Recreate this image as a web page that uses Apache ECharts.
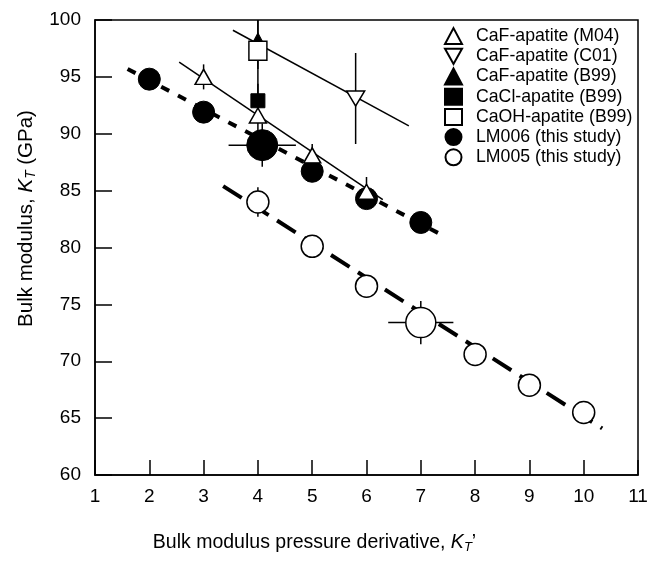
<!DOCTYPE html>
<html>
<head>
<meta charset="utf-8">
<script src="https://cdn.jsdelivr.net/npm/echarts@6/dist/echarts.min.js"></script>
<style>
  html, body { margin: 0; padding: 0; background: #fff; }
  #chart { width: 652px; height: 561px; }
</style>
</head>
<body>
<div id="chart"></div>
<script>
// LM006 (this study)
const lm006X = [2, 3, 4.08, 5, 6, 7]
const lm006Y = [94.8, 91.9, 89.0, 86.7, 84.3, 82.2]
const lm006Xerr = [0, 0, 0.62, 0, 0, 0]
const lm006Yerr = [0, 0, 1.9, 0, 0, 0]
const lm006Big = 2

// LM005 (this study)
const lm005X = [4, 5, 6, 7, 8, 9, 10]
const lm005Y = [84.0, 80.1, 76.6, 73.4, 70.6, 67.9, 65.5]
const lm005Xerr = [0, 0, 0, 0.6, 0, 0, 0]
const lm005Yerr = [1.3, 0, 0, 1.9, 0, 0, 0]
const lm005Big = 3

// literature values
const m04X = [3, 4, 5, 6]
const m04Y = [95.0, 91.6, 88.1, 84.9]
const m04Yerr = [1.1, 1.4, 1.0, 1.3]
const c01X = [5.8]
const c01Y = [93.1]
const c01Yerr = [4.0]
const b99FX = [4]
const b99FY = [98.2]
const b99FYerr = [2.5]
const b99ClX = [4]
const b99ClY = [92.9]
const b99ClYerr = [1.5]
const b99OHX = [4]
const b99OHY = [97.3]
const b99OHYerr = [4.5]

// fitted lines (end points)
const fit006 = [[1.6, 95.7], [7.35, 81.2]]
const fit005 = [[3.36, 85.4], [10.34, 64.1]]
const fitM04 = [[2.55, 96.3], [6.3, 84.2]]
const fitC01 = [[3.54, 99.1], [6.78, 90.7]]

const xTicks = [1, 11, 1]
const yTicks = [60, 100, 5]

const legendNames = ['CaF-apatite (M04)', 'CaF-apatite (C01)', 'CaF-apatite (B99)',
    'CaCl-apatite (B99)', 'CaOH-apatite (B99)', 'LM006 (this study)', 'LM005 (this study)']

const font = 'Liberation Sans, Arial, sans-serif'
const zip = (xs, ys) => xs.map((x, i) => [x, ys[i]])

// error bar rows: x, y, xerr, yerr
const errRows = []
const addErr = (xs, ys, xe, ye) => xs.forEach((x, i) => errRows.push([x, ys[i], xe ? xe[i] : 0, ye ? ye[i] : 0]))
addErr(lm006X, lm006Y, lm006Xerr, lm006Yerr)
addErr(lm005X, lm005Y, lm005Xerr, lm005Yerr)
addErr(m04X, m04Y, null, m04Yerr)
addErr(c01X, c01Y, null, c01Yerr)
addErr(b99FX, b99FY, null, b99FYerr)
addErr(b99ClX, b99ClY, null, b99ClYerr)
addErr(b99OHX, b99OHY, null, b99OHYerr)

const chart = echarts.init(document.getElementById('chart'), null, { renderer: 'canvas' })

const fitLine = (data, width, dash) => ({
    type: 'line',
    data: data,
    symbol: 'none',
    silent: true,
    z: 1,
    lineStyle: { color: '#000', width: width, type: dash || 'solid', cap: 'butt' }
})

const openStyle = { color: '#fff', borderColor: '#000', borderWidth: 1.5, opacity: 1 }
const fillStyle = { color: '#000', borderColor: '#000', borderWidth: 1, opacity: 1 }

const richFor = (size) => ({
    i: { fontFamily: font, fontSize: size, fontStyle: 'italic', color: '#000' },
    s: { fontFamily: font, fontSize: size * 0.67, fontStyle: 'italic', color: '#000', padding: [10, 0, 0, 0] }
})

const option = {
    animation: false,
    backgroundColor: '#fff',
    textStyle: { fontFamily: font, color: '#000' },
    grid: {
        left: 95, right: 14, top: 20, bottom: 86,
        show: true, borderColor: '#000', borderWidth: 1.5
    },
    legend: {
        data: legendNames,
        orient: 'vertical',
        left: 439,
        top: 21,
        itemWidth: 17,
        itemHeight: 16,
        itemGap: 0,
        textStyle: { fontFamily: font, fontSize: 17.7, lineHeight: 20.2, color: '#000', padding: [0, 0, 0, 9] },
        selectedMode: false
    },
    xAxis: {
        type: 'value',
        min: xTicks[0], max: xTicks[1], interval: xTicks[2],
        axisLine: { lineStyle: { color: '#000', width: 1.5 } },
        axisTick: { inside: true, length: 15, lineStyle: { color: '#000', width: 1.5 } },
        axisLabel: { fontFamily: font, fontSize: 19, color: '#000', margin: 12 },
        splitLine: { show: false },
        name: 'Bulk modulus pressure derivative, {i|K}{s|T}\u2019',
        nameLocation: 'middle',
        nameGap: 56,
        nameTextStyle: {
            fontFamily: font, fontSize: 19.5, color: '#000', padding: [0, 104, 0, 0],
            rich: richFor(19.5)
        }
    },
    yAxis: {
        type: 'value',
        min: yTicks[0], max: yTicks[1], interval: yTicks[2],
        axisLine: { lineStyle: { color: '#000', width: 1.5 } },
        axisTick: { inside: true, length: 17, lineStyle: { color: '#000', width: 1.5 } },
        axisLabel: { fontFamily: font, fontSize: 19, color: '#000', margin: 14 },
        splitLine: { show: false },
        name: 'Bulk modulus, {i|K}{s|T} (GPa)',
        nameLocation: 'middle',
        nameRotate: 90,
        nameGap: 53,
        nameTextStyle: {
            fontFamily: font, fontSize: 20.5, color: '#000', padding: [0, 0, 0, 58],
            rich: richFor(20.5)
        }
    },
    series: [
        fitLine(fit006, 4, [9, 10]),
        fitLine(fit005, 4, [22, 10]),
        fitLine(fitM04, 1.5),
        fitLine(fitC01, 1.5),
        {
            type: 'custom',
            silent: true,
            z: 2,
            data: errRows,
            renderItem: function (params, api) {
                const x = api.value(0), y = api.value(1), ex = api.value(2), ey = api.value(3)
                const children = []
                const st = { stroke: '#000', lineWidth: 1.5 }
                if (ey > 0) {
                    const a = api.coord([x, Math.min(y + ey, yTicks[1])])
                    const b = api.coord([x, Math.max(y - ey, yTicks[0])])
                    children.push({ type: 'line', shape: { x1: a[0], y1: a[1], x2: b[0], y2: b[1] }, style: st })
                }
                if (ex > 0) {
                    const a = api.coord([x - ex, y])
                    const b = api.coord([x + ex, y])
                    children.push({ type: 'line', shape: { x1: a[0], y1: a[1], x2: b[0], y2: b[1] }, style: st })
                }
                return { type: 'group', children: children }
            }
        },
        {
            name: 'LM006 (this study)', type: 'scatter', z: 3,
            data: zip(lm006X, lm006Y),
            symbol: 'circle',
            symbolSize: (v, p) => p.dataIndex === lm006Big ? 31 : 22,
            itemStyle: fillStyle
        },
        {
            name: 'LM005 (this study)', type: 'scatter', z: 3,
            data: zip(lm005X, lm005Y),
            symbol: 'circle',
            symbolSize: (v, p) => p.dataIndex === lm005Big ? 30 : 22,
            itemStyle: openStyle
        },
        {
            name: 'CaCl-apatite (B99)', type: 'scatter', z: 3,
            data: zip(b99ClX, b99ClY),
            symbol: 'rect', symbolSize: 14,
            itemStyle: fillStyle
        },
        {
            name: 'CaF-apatite (B99)', type: 'scatter', z: 3,
            data: zip(b99FX, b99FY),
            symbol: 'triangle', symbolSize: [16, 15],
            itemStyle: fillStyle
        },
        {
            name: 'CaOH-apatite (B99)', type: 'scatter', z: 3,
            data: zip(b99OHX, b99OHY),
            symbol: 'rect', symbolSize: [18, 19],
            itemStyle: openStyle
        },
        {
            name: 'CaF-apatite (M04)', type: 'scatter', z: 3,
            data: zip(m04X, m04Y),
            symbol: 'triangle', symbolSize: [17, 15],
            itemStyle: openStyle
        },
        {
            name: 'CaF-apatite (C01)', type: 'scatter', z: 3,
            data: zip(c01X, c01Y),
            symbol: 'path://M0,0 L10,0 L5,9 Z', symbolSize: [18, 15],
            itemStyle: openStyle
        }
    ]
}

chart.setOption(option)
</script>
</body>
</html>
